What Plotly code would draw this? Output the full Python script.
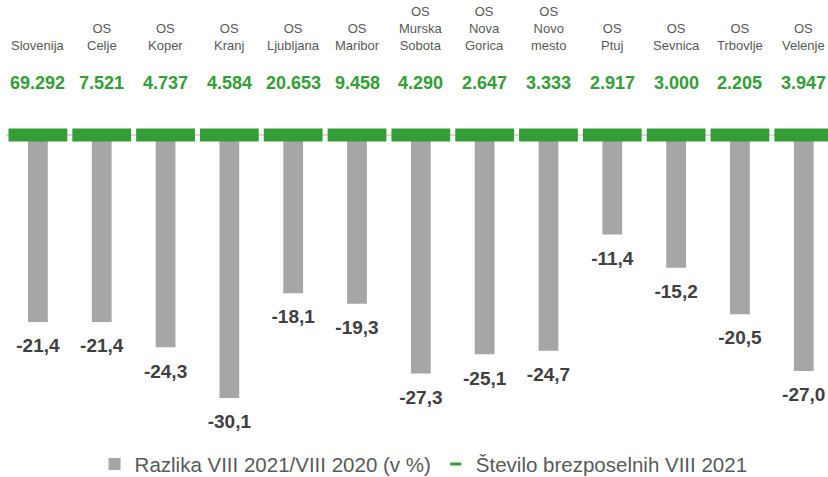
import plotly.graph_objects as go

categories = ["Slovenija", "OS<br>Celje", "OS<br>Koper", "OS<br>Kranj", "OS<br>Ljubljana",
              "OS<br>Maribor", "OS<br>Murska<br>Sobota", "OS<br>Nova<br>Gorica", "OS<br>Novo<br>mesto",
              "OS<br>Ptuj", "OS<br>Sevnica", "OS<br>Trbovlje", "OS<br>Velenje"]
razlika = [-21.4, -21.4, -24.3, -30.1, -18.1, -19.3, -27.3, -25.1, -24.7, -11.4, -15.2, -20.5, -27.0]
brezposelni = [69292, 7521, 4737, 4584, 20653, 9458, 4290, 2647, 3333, 2917, 3000, 2205, 3947]
zero_line = [0] * len(categories)

GRAY = "#a6a6a6"
GREEN = "#339e35"
FONT = "Liberation Sans, Arial, sans-serif"
NAME_BAR = "Razlika VIII 2021/VIII 2020 (v %)"
NAME_GREEN = "Število brezposelnih VIII 2021"

fig = go.Figure()
fig.add_trace(go.Bar(
    x=categories, y=razlika, name=NAME_BAR,
    marker=dict(color=GRAY, line=dict(width=0)), width=0.31,
    hoverinfo="x+y",
))
# value labels under the bars
fig.add_trace(go.Scatter(
    x=categories, y=razlika, mode="markers+text", showlegend=False,
    texttemplate="%{y:.1f}", textposition="bottom center",
    marker=dict(size=24, color="rgba(0,0,0,0)"),
    textfont=dict(family=FONT, size=19, color="#404040", weight="bold"),
    cliponaxis=False, hoverinfo="skip",
))
fig.add_trace(go.Scatter(
    x=categories, y=zero_line, name=NAME_GREEN, showlegend=False,
    mode="markers", customdata=brezposelni, hovertemplate="%{customdata:,}<extra></extra>",
    marker=dict(symbol="line-ew", size=42, color=GREEN, line=dict(color=GREEN, width=13)),
    cliponaxis=False,
))
# legend entry for the green series (short dash as in the original)
fig.add_trace(go.Scatter(
    x=[None], y=[None], name=NAME_GREEN, mode="markers",
    marker=dict(symbol="line-ew", size=8, color=GREEN, line=dict(color=GREEN, width=3)),
))

annotations = []
for c, v in zip(categories, brezposelni):
    annotations.append(dict(x=c, y=1, xref="x", yref="paper", yanchor="bottom", yshift=5,
                            text=c, showarrow=False,
                            font=dict(family=FONT, size=13, color="#595959")))
    annotations.append(dict(x=c, y=1, xref="x", yref="paper", yanchor="middle", yshift=-23,
                            text="<b>" + f"{v:,}".replace(",", ".") + "</b>", showarrow=False,
                            font=dict(family=FONT, size=18, color=GREEN)))

fig.update_layout(
    width=828, height=477,
    margin=dict(l=6, r=0, t=60, b=60),
    paper_bgcolor="white", plot_bgcolor="white",
    separators=",.",
    showlegend=True,
    legend=dict(orientation="h", x=0.508, xanchor="center", yref="container", y=0.027,
                yanchor="middle", itemwidth=30,
                font=dict(family=FONT, size=20.5, color="#595959"), traceorder="normal"),
    annotations=annotations,
    bargap=0.69,
)
fig.update_xaxes(showticklabels=False, showgrid=False, showline=False, range=[-0.5, 12.38])
fig.update_yaxes(showticklabels=False, showgrid=False, range=[-32.27, 8.58],
                 zeroline=True, zerolinecolor="#d9d9d9", zerolinewidth=2)

fig.write_html("out.html", config={"displayModeBar": False},
               post_script="document.body.style.margin='0';document.body.style.overflow='hidden';")
